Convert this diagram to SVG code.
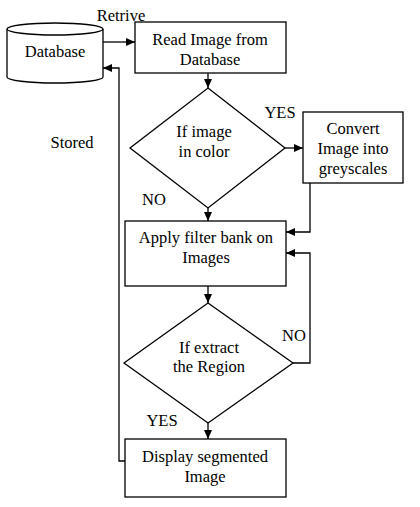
<svg xmlns="http://www.w3.org/2000/svg" width="420" height="507" viewBox="0 0 420 507">
<style>
.s{fill:#fff;stroke:#000;stroke-width:1.3}
.t{font-family:"Liberation Serif","Times New Roman",serif;font-size:16.5px;fill:#000;text-anchor:middle}
.c{fill:none;stroke:#000;stroke-width:1.3}
</style>
<defs>
<marker id="a" markerWidth="10" markerHeight="10" refX="9" refY="5" orient="auto" markerUnits="userSpaceOnUse">
<path d="M0,1 L9,5 L0,9 Z" fill="#000"/>
</marker>
</defs>
<rect width="420" height="507" fill="#fff"/>
<g id="connectors">
<line class="c" x1="103" y1="42" x2="135" y2="42" marker-end="url(#a)"/>
<line class="c" x1="208" y1="73" x2="208" y2="88" marker-end="url(#a)"/>
<line class="c" x1="285" y1="148" x2="303" y2="148" marker-end="url(#a)"/>
<line class="c" x1="208" y1="208" x2="208" y2="221" marker-end="url(#a)"/>
<polyline class="c" points="310,183 310,232 286,232" marker-end="url(#a)"/>
<line class="c" x1="208" y1="286" x2="208" y2="303" marker-end="url(#a)"/>
<polyline class="c" points="293,363 310,363 310,253 286,253" marker-end="url(#a)"/>
<line class="c" x1="208" y1="423" x2="208" y2="439" marker-end="url(#a)"/>
<polyline class="c" points="125,461 119,461 119,68 103,68" marker-end="url(#a)"/>
<text class="t" x="121" y="21">Retrive</text>
<text class="t" x="280" y="118">YES</text>
<text class="t" x="154" y="205">NO</text>
<text class="t" x="294" y="341">NO</text>
<text class="t" x="162" y="426">YES</text>
<text class="t" x="72" y="148">Stored</text>
</g>
<g id="database">
<path class="s" d="M7,29 L7,77 A48,6 0 0 0 103,77 L103,29 A48,6 0 0 0 7,29 Z"/>
<path class="c" d="M7,29 A48,6 0 0 0 103,29"/>
<text class="t" x="55" y="57">Database</text>
</g>
<g id="read">
<rect class="s" x="135" y="22" width="151" height="51"/>
<text class="t" x="210" y="45">Read Image from</text>
<text class="t" x="210" y="65">Database</text>
</g>
<g id="color">
<polygon class="s" points="208,88 285,148 208,208 130,148"/>
<text class="t" x="204" y="137">If image</text>
<text class="t" x="204" y="157">in color</text>
</g>
<g id="convert">
<rect class="s" x="303" y="112" width="100" height="71"/>
<text class="t" x="353" y="134">Convert</text>
<text class="t" x="353" y="154">Image into</text>
<text class="t" x="353" y="174">greyscales</text>
</g>
<g id="filter">
<rect class="s" x="125" y="221" width="161" height="65"/>
<text class="t" x="206" y="243">Apply filter bank on</text>
<text class="t" x="206" y="263">Images</text>
</g>
<g id="extract">
<polygon class="s" points="208,303 293,363 208,423 124,363"/>
<text class="t" x="209" y="353">If extract</text>
<text class="t" x="209" y="372">the Region</text>
</g>
<g id="display">
<rect class="s" x="125" y="439" width="161" height="58"/>
<text class="t" x="205" y="462">Display segmented</text>
<text class="t" x="205" y="482">Image</text>
</g>
</svg>
